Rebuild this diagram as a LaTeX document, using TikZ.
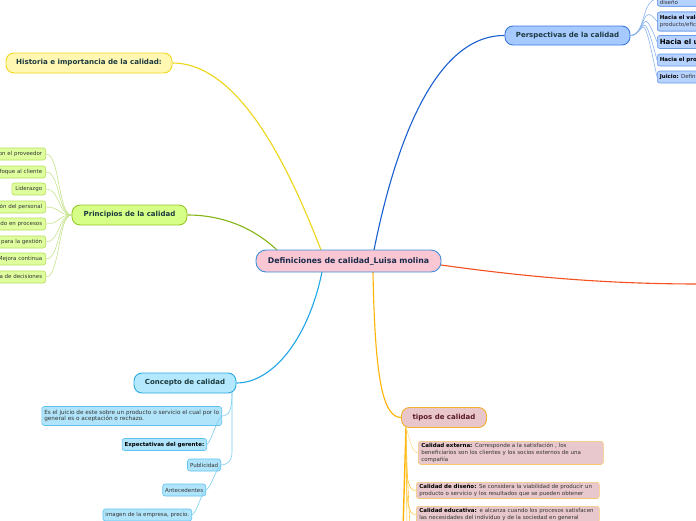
\documentclass[tikz,border=0pt]{standalone}
\usepackage{fontspec}
\setmainfont{DejaVu Sans}
\definecolor{maintext}{HTML}{1B3A3F}
\definecolor{centext}{HTML}{1A2A4A}
\definecolor{leaftext}{HTML}{333333}
\definecolor{cenfill}{HTML}{F9C6D3}
\definecolor{cendraw}{HTML}{3F8FDA}
\definecolor{hisfill}{HTML}{FFF7B2}
\definecolor{hisdraw}{HTML}{EED81E}
\definecolor{hisline}{HTML}{EDD614}
\definecolor{prifill}{HTML}{D6FF88}
\definecolor{pridraw}{HTML}{96C928}
\definecolor{priline}{HTML}{86B414}
\definecolor{prlfill}{HTML}{DFFF9E}
\definecolor{prldraw}{HTML}{B6DE5C}
\definecolor{prlline}{HTML}{C6E48E}
\definecolor{perfill}{HTML}{A6C9FF}
\definecolor{perdraw}{HTML}{3A7AE0}
\definecolor{perline}{HTML}{1A5FD0}
\definecolor{pelfill}{HTML}{B6D2FF}
\definecolor{peldraw}{HTML}{6A9AE8}
\definecolor{pelline}{HTML}{8AB4F0}
\definecolor{confill}{HTML}{B4E8FC}
\definecolor{condraw}{HTML}{2AA8E4}
\definecolor{conline}{HTML}{1EA6E6}
\definecolor{colfill}{HTML}{B0E4FA}
\definecolor{coldraw}{HTML}{5EC2F0}
\definecolor{colline}{HTML}{7CCFF2}
\definecolor{tipfill}{HTML}{E8C6CA}
\definecolor{tipdraw}{HTML}{F2B12E}
\definecolor{tiptext}{HTML}{5A1A2A}
\definecolor{tipline}{HTML}{FFB300}
\definecolor{tilfill}{HTML}{E8C8CC}
\definecolor{tildraw}{HTML}{F8C870}
\definecolor{tilline}{HTML}{FFC83C}
\definecolor{redline}{HTML}{F4511E}
\tikzset{
  mainbox/.style={draw, rounded corners=8pt, line width=0.9pt, font=\bfseries\fontsize{7}{8}\selectfont, text=maintext, inner sep=0pt},
  leafbox/.style={draw, rounded corners=2.5pt, line width=0.6pt, font=\fontsize{5.5}{6.8}\selectfont, text=leaftext, inner xsep=2.5pt, inner ysep=1.5pt, minimum height=12pt},
  conn/.style={line width=1.1pt},
  thin/.style={line width=0.6pt}
}
\begin{document}
\begin{tikzpicture}[x=1pt,y=-1pt]
\useasboundingbox (0,0) rectangle (696,520);
\clip (0,0) rectangle (696,520);
\fill[white] (0,0) rectangle (696,520);

% ---------- connector anchor points on the central node ----------
\coordinate (cHis) at (321,250);
\coordinate (cPri) at (277,250);
\coordinate (cPer) at (374,250);
\coordinate (cCon) at (322,272);
\coordinate (cTip) at (373,272);
\coordinate (cRed) at (441,265);
\coordinate (offRed) at (700,284);

% ---------- branch nodes ----------
\node[mainbox, fill=hisfill, draw=hisdraw, minimum width=166pt, minimum height=20pt, font=\bfseries\fontsize{7.1}{8}\selectfont] (his) at (89,63) {Historia e importancia de la calidad:};
\node[mainbox, fill=prifill, draw=pridraw, minimum width=115pt, minimum height=20pt] (pri) at (129.5,215) {Principios de la calidad};
\node[mainbox, fill=perfill, draw=perdraw, minimum width=125pt, minimum height=19pt] (per) at (567.5,35.5) {Perspectivas de la calidad};
\node[mainbox, fill=confill, draw=condraw, minimum width=102pt, minimum height=20pt] (con) at (185,383) {Concepto de calidad};
\node[mainbox, fill=tipfill, draw=tipdraw, minimum width=85pt, minimum height=20pt, text=tiptext] (tip) at (444,417.5) {tipos de calidad};

% main connectors
\draw[conn, hisline] (his.east) .. controls (240,63) and (290,170) .. (cHis);
\draw[conn, priline] (pri.east) .. controls (228,215) and (258,232) .. (cPri);
\draw[conn, perline] (cPer) .. controls (392,160) and (430,35) .. (per.west);
\draw[conn, conline] (cCon) .. controls (308,340) and (272,383) .. (con.east);
\draw[conn, tipline] (cTip) .. controls (375,385) and (384,417) .. (tip.west);
\draw[conn, redline] (cRed) .. controls (520,276) and (600,284) .. (offRed);

% ---------- central ----------
\node[mainbox, fill=cenfill, draw=cendraw, minimum width=185pt, minimum height=22pt, rounded corners=10pt, font=\bfseries\fontsize{7.8}{9}\selectfont, text=centext] (cen) at (348.5,261) {Definiciones de calidad\_Luisa molina};

% ---------- Principios leaves ----------
\foreach \n/\y/\t in {
  pl1/154/Relación mutuamente beneficiosa con el proveedor,
  pl2/172/Enfoque al cliente,
  pl3/189/Liderazgo,
  pl4/207/Participación del personal,
  pl5/224/Enfoque basado en procesos,
  pl6/242/Enfoque de sistema para la gestión,
  pl7/259/Mejora continua,
  pl8/277/Enfoque basado en hechos para la toma de decisiones}{
  \draw[thin, prlline] (pri.west) .. controls (58,215) and (60,\y) .. (46,\y);
  \node[leafbox, fill=prlfill, draw=prldraw, anchor=east, inner xsep=3.5pt] (\n) at (46,\y) {\t};
}

% ---------- Perspectivas leaves ----------
\node[leafbox, fill=pelfill, draw=peldraw, anchor=south west, align=left] (pe1) at (657,6.5) {\textbf{Hacia el producto:} se enfoca en el\\diseño};
\node[leafbox, fill=pelfill, draw=peldraw, anchor=west, align=left, minimum height=19pt] (pe2) at (657,21.5) {\textbf{\textcolor{black}{Hacia el valor:}} relación entre el costo del\\producto/eficiencia};
\node[leafbox, fill=pelfill, draw=peldraw, anchor=west, font=\bfseries\fontsize{7}{8}\selectfont, text=black, minimum height=13pt] (pe3) at (657,42) {Hacia el usuario};
\node[leafbox, fill=pelfill, draw=peldraw, anchor=west, font=\bfseries\fontsize{5.5}{6.8}\selectfont, text=black] (pe4) at (657,60) {Hacia el proceso};
\node[leafbox, fill=pelfill, draw=peldraw, anchor=west] (pe5) at (657,77) {\textbf{\textcolor{black}{Juicio:}} Definición};
\foreach \n in {pe1,pe2,pe3,pe4,pe5}{
  \draw[thin, pelline] (per.east) .. controls (646,35) and (641,0) .. (\n.west);
}
% boxes above their connectors
\node[leafbox, fill=pelfill, draw=peldraw, anchor=south west, align=left] at (657,6.5) {\textbf{Hacia el producto:} se enfoca en el\\diseño};
\node[leafbox, fill=pelfill, draw=peldraw, anchor=west, align=left, minimum height=19pt] at (657,21.5) {\textbf{\textcolor{black}{Hacia el valor:}} relación entre el costo del\\producto/eficiencia};

% ---------- Concepto leaves ----------
\node[leafbox, fill=colfill, draw=coldraw, anchor=east, align=left, minimum height=19pt, font=\fontsize{5.7}{6.8}\selectfont] (c1) at (222,416) {Es el juicio de este sobre un producto o servicio el cual por lo\\general es o aceptación o rechazo.};
\node[leafbox, fill=colfill, draw=coldraw, anchor=east, font=\bfseries\fontsize{5.5}{6.8}\selectfont, text=black] (c2) at (207,444.5) {Expectativas del gerente:};
\node[leafbox, fill=colfill, draw=coldraw, anchor=east] (c3) at (221,465) {Publicidad};
\node[leafbox, fill=colfill, draw=coldraw, anchor=east] (c4) at (206,490) {Antecedentes};
\node[leafbox, fill=colfill, draw=coldraw, anchor=east] (c5) at (192,515) {imagen de la empresa, precio.};
\coordinate (cb) at (232,392);
\draw[thin, colline] (cb) .. controls (232,408) and (230,416) .. (c1.east);
\draw[thin, colline] (c1.east) .. controls (216,420) and (212,440) .. (c2.east);
\draw[thin, colline] (cb) -- (232,452) .. controls (232,462) and (226,465) .. (c3.east);
\draw[thin, colline] (c3.east) .. controls (215,470) and (212,486) .. (c4.east);
\draw[thin, colline] (c4.east) .. controls (200,495) and (198,511) .. (c5.east);

% ---------- tipos leaves ----------
\coordinate (tb) at (406,427);
\coordinate (tend1) at (403,530);
\coordinate (tend2) at (407,530);
\coordinate (tend3) at (410,530);
\draw[line width=1.4pt, tipline] (tb) -- (tend1);
\draw[thin, tilline] (tb) -- (tend2);
\draw[thin, tilline] (tb) .. controls (407,480) and (409,500) .. (tend3);
\node[leafbox, fill=tilfill, draw=tildraw, anchor=north west, align=left, text width=179pt, inner ysep=2pt, inner xsep=3pt] (t1) at (418,441) {\textbf{\textcolor{black}{Calidad externa:}} Corresponde a la satisfación , los\\beneficiarios son los clientes y los socios externos de una\\compañía};
\node[leafbox, fill=tilfill, draw=tildraw, anchor=north west, align=left, text width=177pt, inner ysep=2pt, inner xsep=3pt] (t2) at (416,482) {\textbf{\textcolor{black}{Calidad de diseño:}} Se considera la viabilidad de producir un\\producto o servicio y los resultados que se pueden obtener};
\node[leafbox, fill=tilfill, draw=tildraw, anchor=north west, align=left, text width=177pt, inner ysep=2pt, inner xsep=3pt] (t3) at (416,506) {\textbf{\textcolor{black}{Calidad educativa:}} e alcanza cuando los procesos satisfacen\\las necesidades del individuo y de la sociedad en general};
\draw[thin, tilline!60] (tb) .. controls (410,440) and (412,453) .. (t1.west);
\draw[thin, tilline] (406,440) .. controls (406,480) and (408,491) .. (t2.west);
\draw[thin, tilline] (406,450) .. controls (406,505) and (408,515) .. (t3.west);
\end{tikzpicture}
\end{document}
